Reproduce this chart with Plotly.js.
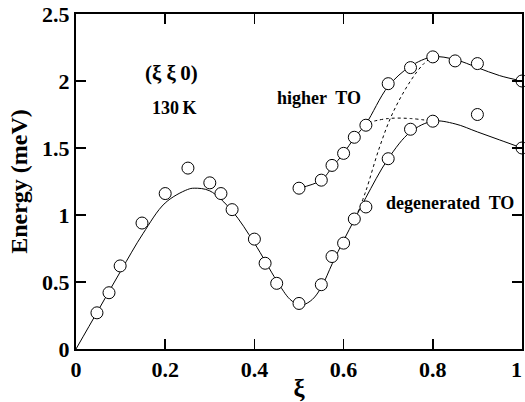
<!DOCTYPE html>
<html>
<head>
<meta charset="utf-8">
<script src="https://cdn.plot.ly/plotly-3.0.1.min.js"></script>
<style>html,body{margin:0;padding:0;background:#fff;}#chart{width:525px;height:402px;}</style>
</head>
<body>
<div id="chart"></div>
<script>
// Measured points: lower (acoustic / degenerated TO) branch
const lowX = [0.047,0.074,0.099,0.148,0.2,0.251,0.30,0.325,0.35,0.40,0.424,0.45,0.50,0.55,0.574,0.60,0.624,0.65,0.70,0.75,0.80,0.90,1.0];
const lowY = [0.27,0.42,0.62,0.94,1.16,1.35,1.24,1.16,1.04,0.82,0.64,0.49,0.34,0.48,0.69,0.79,0.97,1.06,1.42,1.64,1.70,1.75,1.50];
// Measured points: higher TO branch
const highX = [0.50,0.55,0.574,0.60,0.624,0.65,0.70,0.75,0.80,0.85,0.90,1.0];
const highY = [1.20,1.26,1.37,1.46,1.58,1.67,1.98,2.10,2.18,2.15,2.13,2.00];
// Fitted solid curves
const fitLowX = [0,0.05,0.1,0.15,0.2,0.25,0.265,0.3,0.35,0.4,0.45,0.48,0.5,0.51,0.53,0.55,0.575,0.6,0.625,0.65,0.7,0.75,0.8,0.85,0.9,0.95,1.0];
const fitLowY = [0,0.29,0.58,0.86,1.09,1.19,1.20,1.18,1.03,0.79,0.51,0.37,0.33,0.33,0.37,0.46,0.64,0.81,0.97,1.13,1.42,1.62,1.70,1.68,1.62,1.56,1.50];
const fitHighX = [0.5,0.55,0.575,0.6,0.625,0.65,0.7,0.75,0.8,0.85,0.9,0.95,1.0];
const fitHighY = [1.20,1.26,1.36,1.46,1.58,1.68,1.96,2.11,2.18,2.16,2.10,2.04,2.00];
// Dotted guide curves
const dotRiseX = [0.632,0.65,0.68,0.71,0.75,0.78,0.8];
const dotRiseY = [1.02,1.18,1.50,1.76,2.00,2.13,2.18];
const dotFlatX = [0.655,0.7,0.75,0.8];
const dotFlatY = [1.69,1.72,1.72,1.70];

const xTicks = [0,0.2,0.4,0.6,0.8,1];
const xTickText = ['0','0.2','0.4','0.6','0.8','1'];
const yTicks = [0,0.5,1,1.5,2,2.5];
const yTickText = ['0','0.5','1','1.5','2','2.5'];

const serif = 'Liberation Serif, Times New Roman, serif';
const bold = a => a.map(s => '<b>' + s + '</b>');
// last x label nudged left so it stays inside the page edge
const xTickLabels = bold(xTickText).map((s, i, arr) => i === arr.length - 1 ? s + '\u2002' : s);

const traces = [
  {x: fitLowX, y: fitLowY, mode: 'lines', line: {color: '#000', width: 1, shape: 'spline', smoothing: 1}, hoverinfo: 'skip'},
  {x: fitHighX, y: fitHighY, mode: 'lines', line: {color: '#000', width: 1, shape: 'spline', smoothing: 1}, hoverinfo: 'skip'},
  {x: dotRiseX, y: dotRiseY, mode: 'lines', line: {color: '#000', width: 1, dash: 'dot', shape: 'spline'}, hoverinfo: 'skip'},
  {x: dotFlatX, y: dotFlatY, mode: 'lines', line: {color: '#000', width: 1, dash: 'dot', shape: 'spline'}, hoverinfo: 'skip'},
  {x: lowX, y: lowY, mode: 'markers', cliponaxis: false, marker: {symbol: 'circle', size: 12, color: '#fff', line: {color: '#000', width: 1}}},
  {x: highX, y: highY, mode: 'markers', cliponaxis: false, marker: {symbol: 'circle', size: 12, color: '#fff', line: {color: '#000', width: 1}}}
];

const layout = {
  width: 525, height: 402,
  margin: {l: 76, r: 3, t: 14, b: 53},
  paper_bgcolor: '#fff', plot_bgcolor: '#fff',
  showlegend: false,
  font: {family: serif, color: '#000'},
  xaxis: {
    range: [0, 1], tickvals: xTicks, ticktext: xTickLabels,
    ticks: 'inside', ticklen: 10, tickwidth: 1.5, tickcolor: '#000',
    showline: true, linecolor: '#000', linewidth: 2, mirror: 'ticks',
    showgrid: false, zeroline: false, ticklabeloverflow: 'allow',
    tickfont: {family: serif, size: 22, weight: 'bold'},
    title: {text: '<b>ξ</b>', font: {family: serif, size: 25}, standoff: 0}
  },
  yaxis: {
    range: [0, 2.5], tickvals: yTicks, ticktext: bold(yTickText),
    ticks: 'inside', ticklen: 10, tickwidth: 1.5, tickcolor: '#000',
    showline: true, linecolor: '#000', linewidth: 2, mirror: 'ticks',
    showgrid: false, zeroline: false, ticklabeloverflow: 'allow',
    tickfont: {family: serif, size: 22, weight: 'bold'},
    title: {text: '<b>Energy (meV)</b>', font: {family: serif, size: 24}, standoff: 8}
  },
  annotations: [
    {x: 0.213, y: 2.06, xref: 'x', yref: 'y', text: '<b>(ξ ξ\u20090)</b>', showarrow: false, font: {family: serif, size: 21}},
    {x: 0.22, y: 1.80, xref: 'x', yref: 'y', text: '<b>130\u2009K</b>', showarrow: false, font: {family: serif, size: 18}},
    {x: 0.545, y: 1.875, xref: 'x', yref: 'y', text: '<b>higher  TO</b>', showarrow: false, font: {family: serif, size: 18}},
    {x: 0.839, y: 1.09, xref: 'x', yref: 'y', text: '<b>degenerated  TO</b>', showarrow: false, font: {family: serif, size: 18}}
  ]
};

Plotly.newPlot('chart', traces, layout, {displayModeBar: false, staticPlot: true});
</script>
</body>
</html>
